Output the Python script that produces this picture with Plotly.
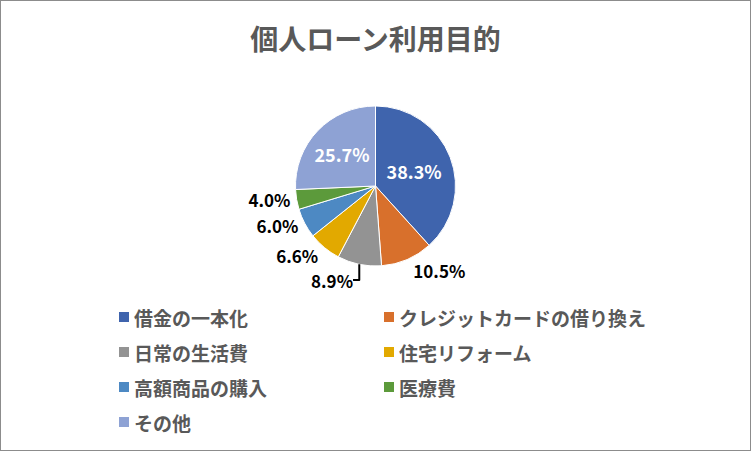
import plotly.graph_objects as go

# data
labels = ["借金の一本化", "クレジットカードの借り換え", "日常の生活費", "住宅リフォーム",
          "高額商品の購入", "医療費", "その他"]
shares = [38.3, 10.5, 8.9, 6.6, 6.0, 4.0, 25.7]
colors = ["#3F64AD", "#D8702C", "#939393", "#E2A900", "#4D89C3", "#5C9A3B", "#8EA2D4"]
text_pos = ["inside", "outside", "outside", "outside", "outside", "outside", "inside"]

W, H = 751, 451
FONT = "Noto Sans CJK JP"

fig = go.Figure(go.Pie(
    labels=labels,
    values=shares,
    sort=False,
    direction="clockwise",
    rotation=0,
    marker=dict(colors=colors, line=dict(color="white", width=1)),
    texttemplate="%{value:.1f}%",
    textposition=text_pos,
    insidetextfont=dict(family=FONT, size=18, color="white", weight="bold"),
    outsidetextfont=dict(family=FONT, size=17, color="black", weight="bold"),
    insidetextorientation="horizontal",
    automargin=False,
    domain=dict(x=[0.2, 0.8], y=[0.4102, 0.7650]),
    showlegend=False,
    hoverinfo="label+percent",
))

# legend drawn as two columns (Excel style row spacing)
col_x = [119, 384]
row_y = [317, 352, 387, 422]
for i, (lab, c) in enumerate(zip(labels, colors)):
    x0 = col_x[i % 2]
    y0 = row_y[i // 2]
    fig.add_shape(type="rect", xref="paper", yref="paper",
                  x0=x0 / W, x1=(x0 + 10) / W,
                  y0=1 - (y0 + 5) / H, y1=1 - (y0 - 5) / H,
                  fillcolor=c, line=dict(width=0))
    fig.add_annotation(text=lab, xref="paper", yref="paper",
                       x=(x0 + 13) / W, y=1 - y0 / H, xanchor="left", yanchor="middle",
                       showarrow=False,
                       font=dict(family=FONT, size=19, color="#595959", weight="bold"))

# outer border
fig.add_shape(type="rect", xref="paper", yref="paper", x0=0, x1=1, y0=0, y1=1,
              line=dict(color="#8C8C8C", width=2))

fig.update_layout(
    width=W, height=H,
    margin=dict(l=0, r=0, t=0, b=0, autoexpand=False),
    paper_bgcolor="white",
    title=dict(text="個人ローン利用目的", x=0.5, xanchor="center", y=1 - 40 / H, yanchor="middle",
               font=dict(family=FONT, size=28, color="#595959", weight="bold")),
)

fig.write_html("out.html", config={"displayModeBar": False},
               post_script="document.body.style.margin = '0';")
